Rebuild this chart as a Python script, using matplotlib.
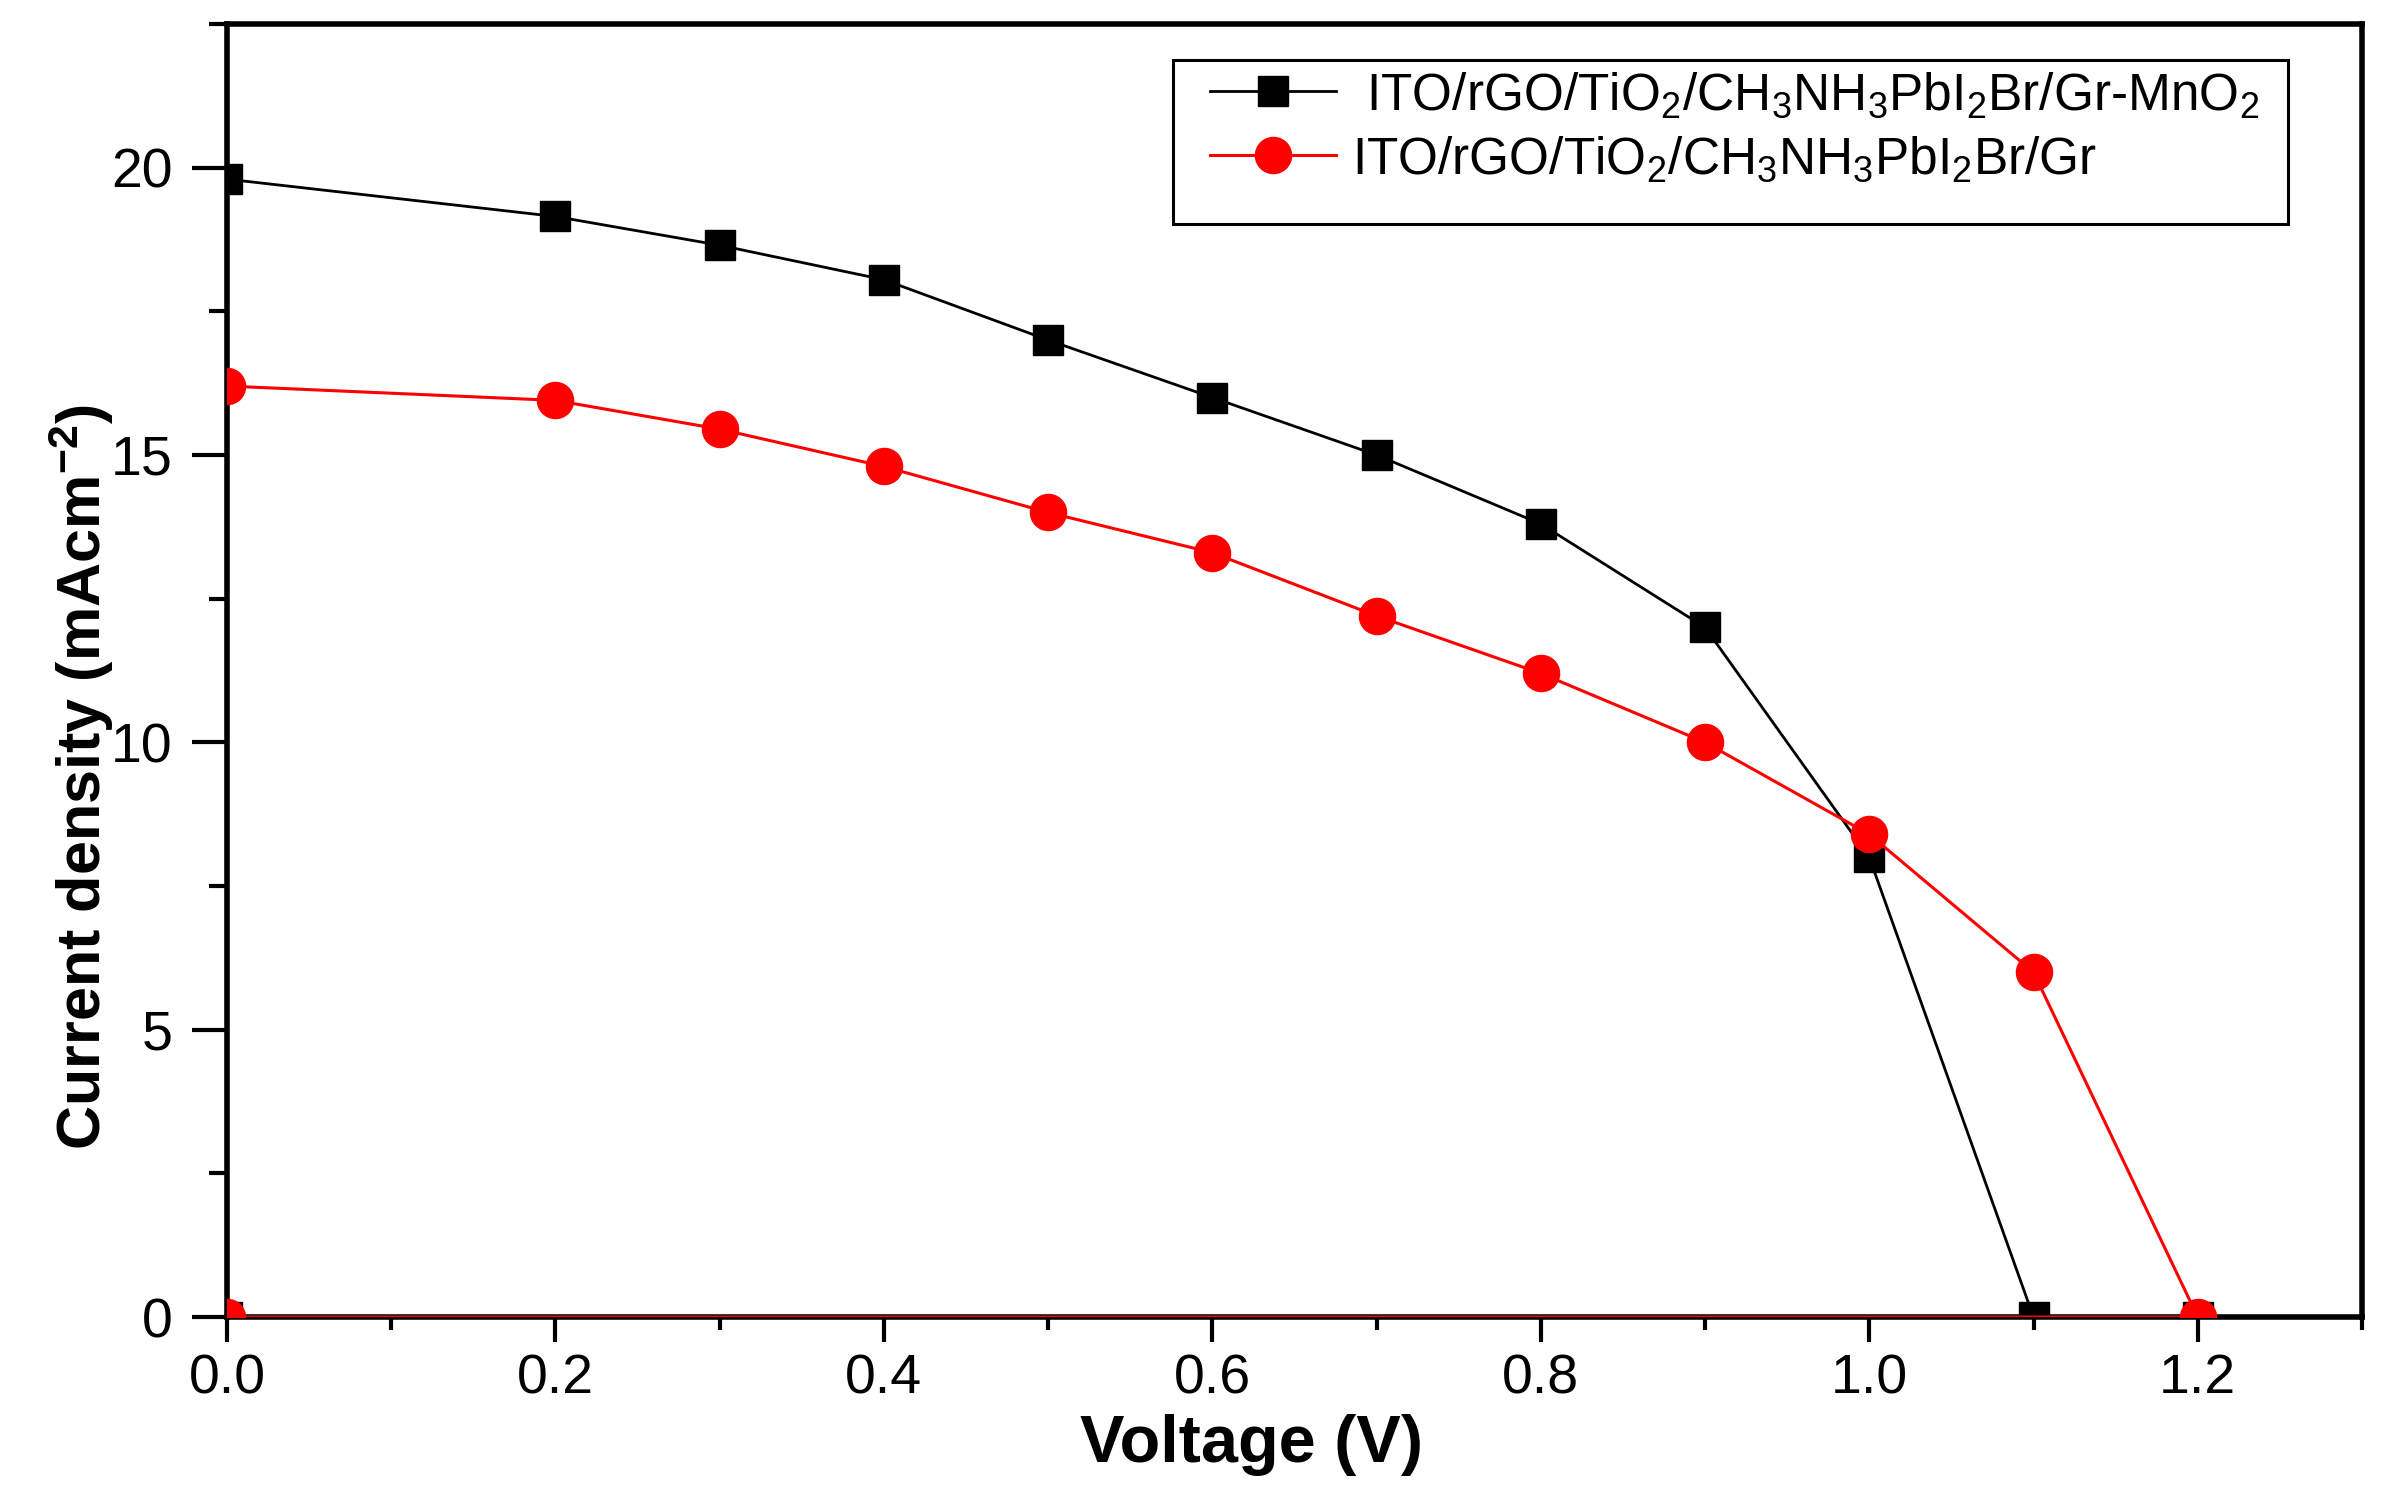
import numpy as np
import matplotlib
matplotlib.use("Agg")
import matplotlib.pyplot as plt
from matplotlib.patches import Rectangle
from matplotlib.ticker import MultipleLocator

plt.rcParams["font.family"] = ["Liberation Sans", "DejaVu Sans"]
plt.rcParams["mathtext.default"] = "regular"

# J-V data (last two points return along J = 0, as in the original trace)
voltage_mno2 = [0.0, 0.2, 0.3, 0.4, 0.5, 0.6, 0.7, 0.8, 0.9, 1.0, 1.1, 1.2, 0.0]
current_mno2 = [19.8, 19.15, 18.65, 18.05, 17.0, 16.0, 15.0, 13.8, 12.0, 8.0, 0.0, 0.0, 0.0]

voltage_gr = [0.0, 0.2, 0.3, 0.4, 0.5, 0.6, 0.7, 0.8, 0.9, 1.0, 1.1, 1.2, 0.0]
current_gr = [16.2, 15.95, 15.45, 14.8, 14.0, 13.3, 12.2, 11.2, 10.0, 8.4, 6.0, 0.0, 0.0]

label_mno2 = r" ITO/rGO/TiO$_2$/CH$_3$NH$_3$PbI$_2$Br/Gr-MnO$_2$"
label_gr = r"ITO/rGO/TiO$_2$/CH$_3$NH$_3$PbI$_2$Br/Gr"

fig = plt.figure(figsize=(23.96, 14.97), dpi=100)
fig.patch.set_facecolor("white")
ax = fig.add_axes([0.0947, 0.1202, 0.8911, 0.8638])

ax.plot(voltage_mno2, current_mno2, color="black", linewidth=2.0,
        marker="s", markersize=22, markerfacecolor="black",
        markeredgecolor="black", label=label_mno2, zorder=3)
ax.plot(voltage_gr, current_gr, color="#ff0000", linewidth=2.2,
        marker="o", markersize=26, markerfacecolor="#ff0000",
        markeredgecolor="#ff0000", label=label_gr, zorder=4)

ax.set_xlim(0, 1.3)
ax.set_ylim(0, 22.5)
ax.xaxis.set_major_locator(MultipleLocator(0.2))
ax.xaxis.set_minor_locator(MultipleLocator(0.1))
ax.yaxis.set_major_locator(MultipleLocator(5))
ax.yaxis.set_minor_locator(MultipleLocator(2.5))
ax.xaxis.set_major_formatter(matplotlib.ticker.FormatStrFormatter("%.1f"))

for s in ax.spines.values():
    s.set_linewidth(4)

ax.tick_params(axis="x", which="major", direction="out", length=18, width=3,
               labelsize=40, pad=8)
ax.tick_params(axis="x", which="minor", direction="out", length=9.5, width=3)
ax.tick_params(axis="y", which="major", direction="out", length=25, width=3,
               labelsize=40, pad=14)
ax.tick_params(axis="y", which="minor", direction="out", length=13, width=3)

ax.set_xlabel("Voltage (V)", fontsize=48, fontweight="bold")
ax.set_ylabel(r"Current density (mAcm$^{-2}$)", fontsize=44, fontweight="bold")
ax.xaxis.set_label_coords(0.48, -0.075)
ax.yaxis.set_label_coords(-0.052, 0.418)

# legend box
ax.add_patch(Rectangle((0.4431, 0.8453), 0.5222, 0.1269, transform=ax.transAxes,
                       fill=False, edgecolor="black", linewidth=2.2, zorder=5))
ax.legend(loc="upper left", bbox_to_anchor=(0.4604, 0.964), frameon=False,
          fontsize=37, handlelength=2.45, handletextpad=0.32,
          borderpad=0, borderaxespad=0, labelspacing=0.28, markerscale=1.0)

fig.savefig("out.png", dpi=100)
